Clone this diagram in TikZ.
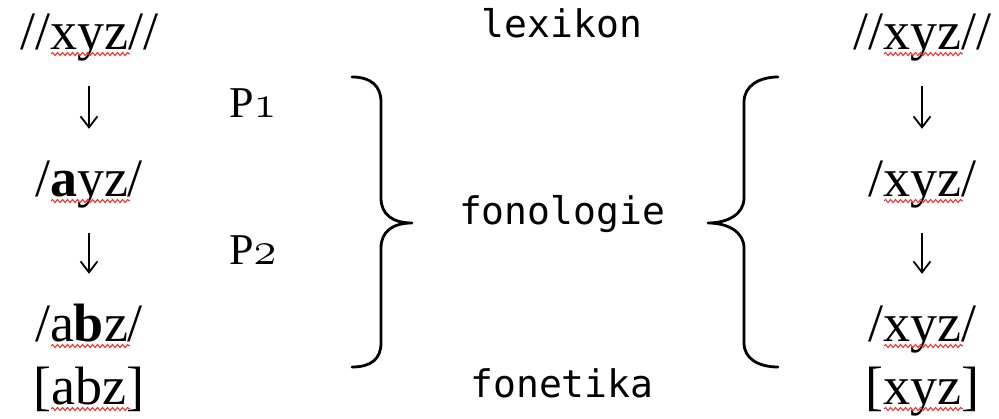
\documentclass[tikz,border=0pt]{standalone}
\usepackage{fontspec}
\setmainfont{Liberation Serif}
\newfontfamily\codefont{DejaVu Sans Mono}
\usetikzlibrary{arrows.meta,decorations.pathmorphing}
\newcommand{\osnum}[1]{\resizebox{!}{20pt}{\usefont{OML}{cmm}{m}{it}#1}}
\begin{document}
\begin{tikzpicture}[x=1pt,y=-1pt,
  word/.style={font=\fontsize{54}{60}\selectfont, inner sep=0pt, anchor=base, text height=36pt, text depth=11pt},
  rulelabel/.style={font=\fontsize{44}{50}\selectfont, inner sep=0pt, anchor=base west},
  code/.style={font=\codefont\fontsize{38}{44}\selectfont, inner sep=0pt, anchor=base},
  arr/.style={-{Straight Barb[length=11pt,width=17pt,line width=1.8pt]}, line width=1.8pt, shorten <=25pt, shorten >=32pt},
  bracepath/.style={line width=2.8pt, line cap=round, line join=round},
  squig/.style={red!85!white, line width=1pt, decorate, decoration={snake, segment length=5pt, amplitude=1.5pt}}]
\fill[white] (0,0) rectangle (999,419);
\useasboundingbox (0,0) rectangle (999,419);

% left column
\node[word] (l1) at (89,50) {//xyz//};
\node[word] (l2) at (89,197) {/\textbf{a}yz/};
\node[word] (l3) at (89,342) {/a\textbf{b}z/};
\node[word] (l4) at (89,405) {[abz]};
\draw[arr] (l1) -- (l2);
\draw[arr] (l2) -- (l3);

% rule labels
\node[rulelabel] (p1) at (229,118) {P\osnum{1}};
\node[rulelabel] (p2) at (229,265) {P\osnum{2}};

% right column
\node[word] (r1) at (922,50) {//xyz//};
\node[word] (r2) at (922,197) {/xyz/};
\node[word] (r3) at (922,342) {/xyz/};
\node[word] (r4) at (922,405) {[xyz]};
\draw[arr] (r1) -- (r2);
\draw[arr] (r2) -- (r3);

% middle labels
\node[code] (lex) at (562,38) {lexikon};
\node[code] (fon) at (562,225) {fonologie};
\node[code] (fet) at (562,398) {fonetika};

% braces
\draw[bracepath] (352,77) .. controls (371,77) and (381,86) .. (381,102) -- (381,198)
  .. controls (381,214) and (392,223) .. (412,223)
  .. controls (392,223) and (381,232) .. (381,248) -- (381,343)
  .. controls (381,359) and (371,367) .. (352,367);
\draw[bracepath] (778,77) .. controls (759,77) and (744,86) .. (744,102) -- (744,198)
  .. controls (744,214) and (728,223) .. (708,223)
  .. controls (728,223) and (744,232) .. (744,248) -- (744,343)
  .. controls (744,359) and (759,367) .. (778,367);

% spell-check squiggles
\draw[squig] (51,54) -- (130,54);
\draw[squig] (51,201) -- (130,201);
\draw[squig] (51,346) -- (130,346);
\draw[squig] (51,409) -- (130,409);
\draw[squig] (884,54) -- (963,54);
\draw[squig] (884,201) -- (963,201);
\draw[squig] (884,346) -- (963,346);
\draw[squig] (884,409) -- (963,409);
\end{tikzpicture}
\end{document}
